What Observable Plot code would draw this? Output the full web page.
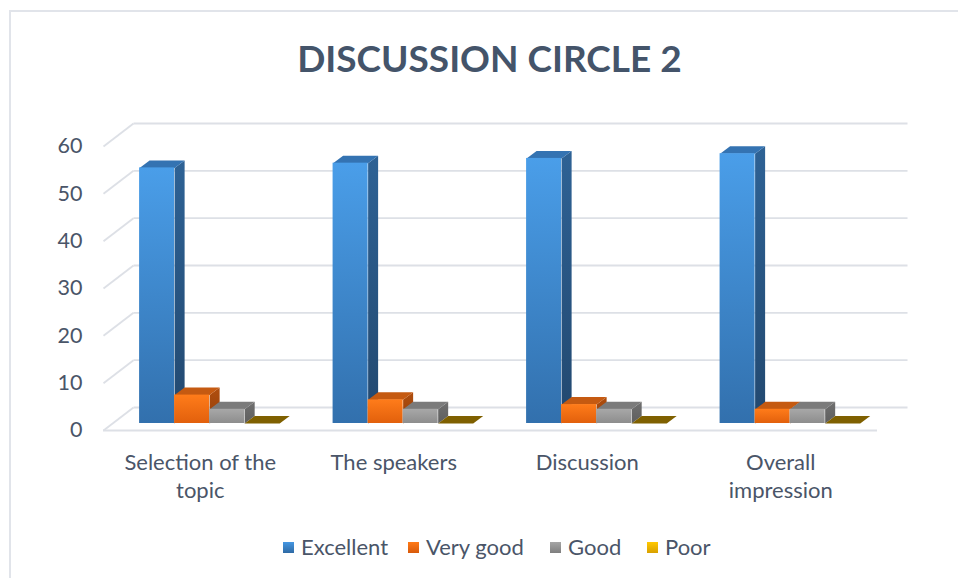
<!DOCTYPE html>
<html><head><meta charset="utf-8">
<script src="https://cdn.jsdelivr.net/npm/d3@7"></script>
<script src="https://cdn.jsdelivr.net/npm/@observablehq/plot@0.6"></script>
<style>
html,body{margin:0;padding:0;background:#fff;}
#wrap{position:relative;width:958px;height:578px;overflow:hidden;font-family:Lato,"Open Sans",sans-serif;}
#border{position:absolute;left:9px;top:10px;width:1000px;height:700px;border-left:2px solid #e1e4ea;border-top:2px solid #e1e4ea;box-sizing:border-box;}
#title{position:relative;height:100px;box-sizing:border-box;padding-top:39px;padding-left:21px;text-align:center;font-weight:700;font-size:37px;line-height:1;color:#44546a;}
#chart{position:relative;height:435px;}
#chart svg{display:block;}
#legend{position:relative;font-size:22px;line-height:24px;height:24px;color:#4a5568;}
.item{position:absolute;top:0;display:flex;align-items:center;gap:7px;white-space:nowrap;}
.sw{width:11px;height:11px;}
</style></head>
<body><div id="wrap"><div id="border"></div><div id="title">DISCUSSION CIRCLE 2</div><div id="chart"></div><div id="legend"></div></div>
<script>
// ---- data ----
const categories = ["Selection of the\ntopic", "The speakers", "Discussion", "Overall\nimpression"];
const series = ["Excellent", "Very good", "Good", "Poor"];
const excellent = [54, 55, 56, 57];
const veryGood = [6, 5, 4, 3];
const good = [3, 3, 3, 3];
const poor = [0, 0, 0, 0];
const yTicks = [0, 10, 20, 30, 40, 50, 60];

// ---- styles ----
const W = 958, H = 435, mL = 103, mR = 81, mT = 46, mB = 105;
const ux = categories.length / (W - mL - mR);
const uy = 60 / (H - mT - mB);
const wall = [30, 23];           // back wall depth (px)
const barFront = [9, 7];         // bar front face depth offset (px)
const barDepth = [10, 7.5];      // bar depth (px)
const groupPad = 0.14, barW = 0.181;
const gridColor = "#dde0e6";
const legendLeft = [283, 408, 550, 647];
const palette = [
  {front: ["#4a9ee9", "#3270ad"], side: ["#2e6295", "#22486f"], top: "#3473b2", legend: ["#4597e2", "#2f6aa5"]},
  {front: ["#ff7c1a", "#e2600c"], side: ["#b04e0e", "#95400a"], top: "#c55a11", legend: ["#ff7a17", "#d85a0b"]},
  {front: ["#a8a8a8", "#8d8d8d"], side: ["#707070", "#5e5e5e"], top: "#7b7b7b", legend: ["#a5a5a5", "#7f7f7f"]},
  {front: ["#ffc000", "#d9a300"], side: ["#8f6c00", "#7a5c00"], top: "#7f6000", legend: ["#ffc800", "#d9a100"]}
];

const seriesValues = [excellent, veryGood, good, poor];
const bdx = barDepth[0] * ux, bdy = barDepth[1] * uy;
const rowsBySeries = seriesValues.map((vals, s) => vals.map((v, i) => {
  const x1 = i + groupPad + s * barW + barFront[0] * ux;
  return {s, i, v, x1, x2: x1 + barW, y0: barFront[1] * uy};
}));
function polys(rows, f) {
  return rows.flatMap((d, k) => f(d).map(([x, y]) => ({id: k, x, y})));
}
const sideFace = d => [[d.x2, d.y0], [d.x2, d.y0 + d.v], [d.x2 + bdx, d.y0 + d.v + bdy], [d.x2 + bdx, d.y0 + bdy]];
const topFace = d => [[d.x1, d.y0 + d.v], [d.x2, d.y0 + d.v], [d.x2 + bdx, d.y0 + d.v + bdy], [d.x1 + bdx, d.y0 + d.v + bdy]];

// floor shadow under each group
const shadowRows = categories.map((c, i) => ({
  gx1: i + groupPad - 14 * ux, gx2: i + groupPad + series.length * barW + 24 * ux
}));
const shadowFace = d => {
  const a = 0.06, b = 0.7;
  return [[d.gx1 + a * wall[0] * ux, a * wall[1] * uy], [d.gx2 + a * wall[0] * ux, a * wall[1] * uy],
          [d.gx2 + b * wall[0] * ux, b * wall[1] * uy], [d.gx1 + b * wall[0] * ux, b * wall[1] * uy]];
};

const marks = [
  Plot.link(yTicks, {x1: wall[0] * ux, x2: categories.length + wall[0] * ux, y1: t => t + wall[1] * uy, y2: t => t + wall[1] * uy, stroke: gridColor, strokeWidth: 1.8}),
  Plot.link(yTicks, {x1: 0, y1: t => t, x2: wall[0] * ux, y2: t => t + wall[1] * uy, stroke: gridColor, strokeWidth: 1.8}),
  Plot.ruleY([0], {x1: 0, x2: categories.length, stroke: gridColor, strokeWidth: 1.8}),
  Plot.line(polys(shadowRows, shadowFace), {x: "x", y: "y", z: "id", fill: "#000", fillOpacity: 0.55, stroke: "none", ariaLabel: "shadow"})
];
rowsBySeries.forEach((rows, s) => marks.push(Plot.line(polys(rows, sideFace), {x: "x", y: "y", z: "id", fill: `url(#side${s})`, stroke: "none"})));
rowsBySeries.forEach((rows, s) => marks.push(Plot.line(polys(rows, topFace), {x: "x", y: "y", z: "id", fill: palette[s].top, stroke: "none"})));
rowsBySeries.forEach((rows, s) => marks.push(Plot.rect(rows, {x1: "x1", x2: "x2", y1: "y0", y2: d => d.y0 + d.v, fill: `url(#front${s})`})));
marks.push(Plot.axisY({ticks: yTicks, tickSize: 0, tickPadding: 21, fontSize: 21.5}));
marks.push(Plot.axisX({ticks: categories.map((c, i) => i + 0.5), tickFormat: t => categories[Math.floor(t)], tickSize: 0, tickPadding: 19, fontSize: 22, lineHeight: 1.28}));

const svg = Plot.plot({
  width: W, height: H,
  marginLeft: mL, marginRight: mR, marginTop: mT, marginBottom: mB,
  x: {domain: [0, categories.length]},
  y: {domain: [0, 60]},
  style: {fontFamily: "Lato, 'Open Sans', sans-serif", fontSize: "22px", color: "#4a5568", background: "transparent", overflow: "visible"},
  marks
});

const defs = d3.select(svg).insert("defs", ":first-child");
function grad(id, c1, c2) {
  const g = defs.append("linearGradient").attr("id", id).attr("x1", 0).attr("y1", 0).attr("x2", 0).attr("y2", 1);
  g.append("stop").attr("offset", 0).attr("stop-color", c1);
  g.append("stop").attr("offset", 1).attr("stop-color", c2);
}
palette.forEach((p, s) => { grad(`front${s}`, ...p.front); grad(`side${s}`, ...p.side); });
const f = defs.append("filter").attr("id", "blur").attr("x", "-30%").attr("y", "-100%").attr("width", "160%").attr("height", "300%");
f.append("feGaussianBlur").attr("stdDeviation", 3.5);
d3.select(svg).selectAll('[aria-label="shadow"]').attr("filter", "url(#blur)");

document.getElementById("chart").appendChild(svg);

const legend = d3.select("#legend");
series.forEach((name, s) => {
  const it = legend.append("div").attr("class", "item").style("left", legendLeft[s] + "px");
  it.append("div").attr("class", "sw").style("background", `linear-gradient(${palette[s].legend[0]}, ${palette[s].legend[1]})`);
  it.append("span").text(name);
});
</script>
</body></html>
